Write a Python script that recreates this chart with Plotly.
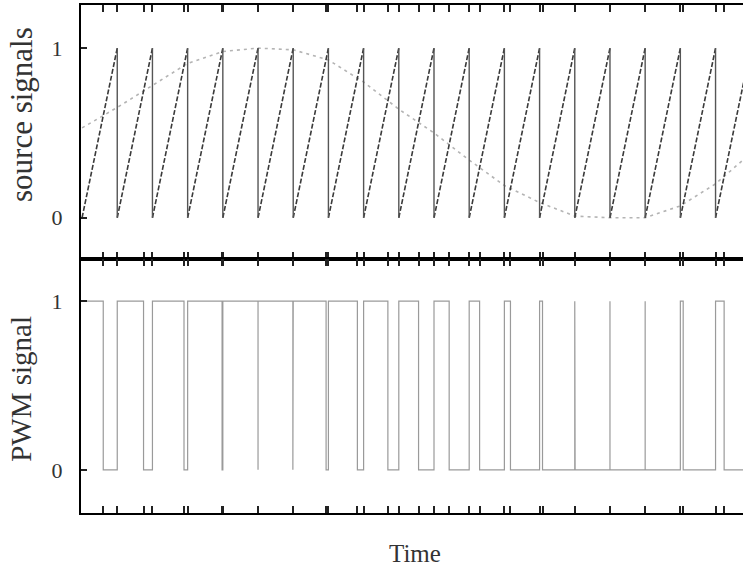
import plotly.graph_objects as go

# ---- data (time unit = one carrier period) ----
carrier_periods = list(range(0, 20))          # carrier resets at t = 0, 1, ..., 19
sine_samples = [0.53, 0.65, 0.78, 0.91, 0.98, 1.00, 0.99, 0.93, 0.80, 0.64,
                0.50, 0.34, 0.19, 0.09, 0.01, 0.00, 0.00, 0.07, 0.20, 0.38]
y_tick_vals = [0, 1]
y_tick_text = ["0", "1"]
x_range = [-0.03, 18.78]

# ---- derived marks ----
# crossing of the rising carrier (0 -> 1 within a period) with the sampled sine
crossings = []
for k in range(len(carrier_periods) - 1):
    s0, s1 = sine_samples[k], sine_samples[k + 1]
    t = s0 / (1.0 - (s1 - s0))
    t = min(max(t, 0.0), 1.0)
    crossings.append(carrier_periods[k] + t)

ramp_x, ramp_y, drop_x, drop_y = [], [], [], []
for k in range(len(carrier_periods) - 1):
    a, b = carrier_periods[k], carrier_periods[k + 1]
    ramp_x += [a, b, None]
    ramp_y += [0, 1, None]
    drop_x += [b, b, None]
    drop_y += [1, 0, None]

sine_x = list(carrier_periods)
sine_y = list(sine_samples)

pwm_x, pwm_y = [], []
for k in range(len(carrier_periods) - 1):
    a, b = carrier_periods[k], carrier_periods[k + 1]
    c = crossings[k]
    pwm_x += [a, c, c, b]
    pwm_y += [1, 1, 0, 0]

tick_vals = sorted(set([round(v, 4) for v in carrier_periods[1:]] + [round(c, 4) for c in crossings]))

fig = go.Figure()
fig.add_trace(go.Scatter(x=sine_x, y=sine_y, mode="lines",
                         line=dict(color="#b4b4b4", width=1.6, dash="3px,4px"),
                         xaxis="x", yaxis="y", showlegend=False, hoverinfo="skip"))
fig.add_trace(go.Scatter(x=ramp_x, y=ramp_y, mode="lines",
                         line=dict(color="#3a3a3a", width=1.6, dash="5px,2px"),
                         xaxis="x", yaxis="y", showlegend=False, hoverinfo="skip"))
fig.add_trace(go.Scatter(x=drop_x, y=drop_y, mode="lines",
                         line=dict(color="#555555", width=1.4),
                         xaxis="x", yaxis="y", showlegend=False, hoverinfo="skip"))
fig.add_trace(go.Scatter(x=pwm_x, y=pwm_y, mode="lines",
                         line=dict(color="#9a9a9a", width=1.2),
                         xaxis="x2", yaxis="y2", showlegend=False, hoverinfo="skip"))

serif = "Liberation Serif, Times New Roman, serif"
xcommon = dict(range=x_range, showline=True, linecolor="black", linewidth=2,
               mirror="ticks", ticks="inside", ticklen=7, tickwidth=1.5, tickcolor="#222",
               tickvals=tick_vals, showticklabels=False, showgrid=False, zeroline=False)
ycommon = dict(showline=True, linecolor="black", linewidth=2,
               ticks="inside", ticklen=6, tickwidth=1.5, tickcolor="#222",
               tickvals=y_tick_vals, ticktext=y_tick_text,
               tickfont=dict(family=serif, size=22, color="#333"),
               ticklabelstandoff=12,
               showgrid=False, zeroline=False)

fig.update_layout(
    width=743, height=569,
    margin=dict(l=81, r=0, t=5, b=56),
    paper_bgcolor="white", plot_bgcolor="white",
    xaxis=dict(xcommon, anchor="y", domain=[0, 1]),
    yaxis=dict(ycommon, range=[-0.243, 1.254], domain=[0.5, 1], anchor="x"),
    xaxis2=dict(xcommon, anchor="y2", domain=[0, 1]),
    yaxis2=dict(ycommon, range=[-0.256, 1.25], domain=[0, 0.5], anchor="x2"),
    annotations=[
        dict(text="source signals", x=-0.091, y=0.785, xref="paper", yref="paper",
             textangle=-90, showarrow=False, xanchor="center", yanchor="middle",
             font=dict(family=serif, size=31, color="#333")),
        dict(text="PWM signal", x=-0.091, y=0.244, xref="paper", yref="paper",
             textangle=-90, showarrow=False, xanchor="center", yanchor="middle",
             font=dict(family=serif, size=29, color="#333")),
        dict(text="Time", x=0.505, y=-0.079, xref="paper", yref="paper",
             showarrow=False, xanchor="center", yanchor="middle",
             font=dict(family=serif, size=25, color="#333")),
    ],
)

fig.write_html("out.html",
               config={"displayModeBar": False},
               post_script="document.body.style.margin='0';document.body.style.overflow='hidden';")
